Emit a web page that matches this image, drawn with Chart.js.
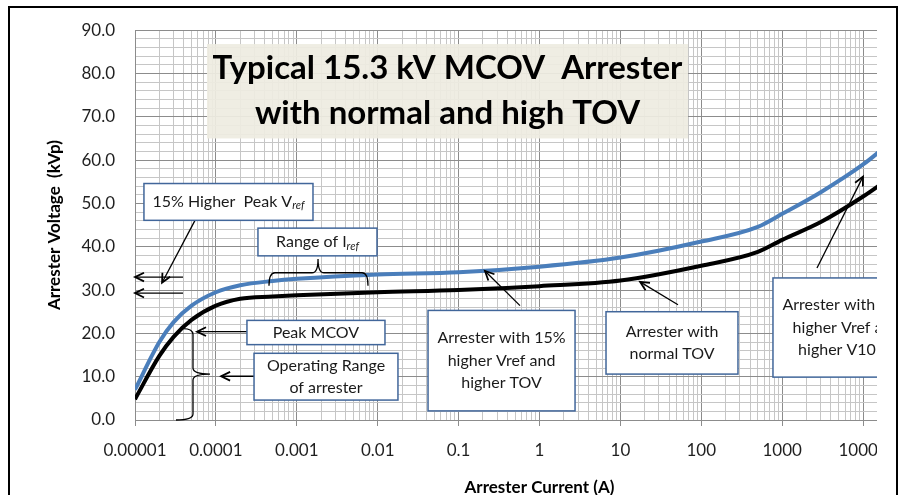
<!DOCTYPE html>
<html>
<head>
<meta charset="utf-8">
<title>Typical 15.3 kV MCOV Arrester</title>
<script src="https://cdn.jsdelivr.net/npm/chart.js@4.4.1/dist/chart.umd.min.js"></script>
<style>
  html, body { margin: 0; padding: 0; background: #fff; }
  #wrap { position: absolute; left: 0; top: 0; width: 877px; height: 495px; overflow: hidden; }
  #frame { position: absolute; left: 8px; top: 6px; width: 890px; height: 560px; border: 2px solid #000; box-sizing: border-box; pointer-events: none; }
</style>
</head>
<body>
<div id="wrap"><canvas id="chart" width="1000" height="495"></canvas></div>
<div id="frame"></div>
<script>
// --- data ---
const currentA = [1e-5, 2e-5, 3e-5, 5e-5, 1e-4, 2e-4, 5e-4, 1e-3, 1e-2, 0.1, 1, 10, 100, 500, 1000, 3000, 10000, 20000];
const normalTovKv = [4.8, 14.8, 19.2, 23.1, 26.4, 28.0, 28.5, 28.8, 29.5, 30.0, 30.9, 32.2, 35.6, 38.8, 41.6, 45.7, 51.6, 55.5];
const highTovKv = [7.0, 18.0, 22.6, 26.4, 29.5, 31.1, 32.1, 32.6, 33.6, 34.1, 35.4, 37.5, 41.2, 44.6, 47.6, 52.6, 59.0, 63.5];

const decades = [1e-5, 1e-4, 1e-3, 1e-2, 1e-1, 1, 10, 100, 1000, 10000, 100000];
const xTickLabels = ['0.00001', '0.0001', '0.001', '0.01', '0.1', '1', '10', '100', '1000', '10000', '100000'];

const titleLines = ['Typical 15.3 kV MCOV  Arrester', 'with normal and high TOV'];

// callouts (box corners and arrow ends in amps / kV)
const callouts = [
  { box: [1.29e-5, 54.6, 1.585e-3, 46.1], lines: [[{ t: '15% Higher  Peak V' }, { t: 'ref', sub: true }]] },
  { box: [3.31e-4, 44.3, 9.8e-3, 37.9], lines: [[{ t: 'Range of I' }, { t: 'ref', sub: true }]] },
  { box: [2.42e-4, 23.0, 1.23e-2, 17.4], lines: [[{ t: 'Peak MCOV' }]] },
  { box: [2.96e-4, 15.4, 1.78e-2, 4.6], lines: [[{ t: 'Operating Range' }], [{ t: 'of arrester' }]] },
  { box: [4.19e-2, 25.3, 2.75, 2.1], lines: [[{ t: 'Arrester with 15%' }], [{ t: 'higher Vref and' }], [{ t: 'higher TOV' }]] },
  { box: [6.64, 25.0, 284, 10.6], lines: [[{ t: 'Arrester with' }], [{ t: 'normal TOV' }]] },
  { box: [769, 32.8, 5.05e4, 9.9], lines: [[{ t: 'Arrester with 15%' }], [{ t: 'higher Vref and' }], [{ t: 'higher V10kA' }]] }
];
const arrows = [
  { from: [5.52e-5, 46.1], to: [2.16e-5, 31.7] },
  { from: [3.92e-5, 33.0], to: [1e-5, 33.0] },
  { from: [3.92e-5, 29.3], to: [1e-5, 29.3] },
  { from: [2.42e-4, 20.4], to: [5.84e-5, 20.4] },
  { from: [3.31e-4, 10.1], to: [1.16e-4, 10.1] },
  { from: [0.574, 26.4], to: [0.212, 34.4] },
  { from: [51.5, 26.6], to: [17.5, 31.9] },
  { from: [2692, 35.1], to: [9980, 56.2] }
];

const isDecade = v => decades.some(d => Math.abs(v / d - 1) < 1e-9);

const calloutPlugin = {
  id: 'callouts',
  beforeDatasetsDraw(chart) {
    const { ctx, scales: { x, y } } = chart;
    // title box over the grid
    const l = x.getPixelForValue(7.76e-5), r = x.getPixelForValue(68.5);
    const t = y.getPixelForValue(86.8), b = y.getPixelForValue(65.0);
    ctx.save();
    ctx.fillStyle = 'rgba(238,236,225,0.93)';
    ctx.fillRect(l, t, r - l, b - t);
    ctx.fillStyle = '#000';
    ctx.font = 'bold 33px Lato';
    ctx.textAlign = 'center';
    ctx.textBaseline = 'middle';
    const cx = (l + r) / 2, cy = (t + b) / 2;
    titleLines.forEach((line, i) => ctx.fillText(line, cx, cy + (i - 0.5) * 45));
    ctx.restore();
  },
  afterDatasetsDraw(chart) {
    const { ctx, scales: { x, y } } = chart;
    const px = v => x.getPixelForValue(v);
    const py = v => y.getPixelForValue(v);
    ctx.save();

    // arrows
    ctx.strokeStyle = '#000';
    arrows.forEach(a => {
      const x1 = px(a.from[0]), y1 = py(a.from[1]);
      const x2 = px(a.to[0]), y2 = py(a.to[1]);
      const ang = Math.atan2(y2 - y1, x2 - x1);
      ctx.lineWidth = 1.3;
      ctx.beginPath();
      ctx.moveTo(x1, y1);
      ctx.lineTo(x2, y2);
      ctx.stroke();
      ctx.lineWidth = 1.8;
      ctx.beginPath();
      ctx.moveTo(x2 - 10 * Math.cos(ang - 0.45), y2 - 10 * Math.sin(ang - 0.45));
      ctx.lineTo(x2, y2);
      ctx.lineTo(x2 - 10 * Math.cos(ang + 0.45), y2 - 10 * Math.sin(ang + 0.45));
      ctx.stroke();
    });

    ctx.lineWidth = 1.3;
    // brace over the range of Iref
    const x1 = px(4.53e-4), x2 = px(7.59e-3), xm = px(1.83e-3);
    const yb = py(34.0), ye = py(31.0), yn = py(37.2);
    ctx.beginPath();
    ctx.moveTo(x1, ye);
    ctx.quadraticCurveTo(x1, yb, x1 + 6, yb);
    ctx.lineTo(xm - 6, yb);
    ctx.quadraticCurveTo(xm, yb, xm, yn);
    ctx.quadraticCurveTo(xm, yb, xm + 6, yb);
    ctx.lineTo(x2 - 6, yb);
    ctx.quadraticCurveTo(x2, yb, x2, ye);
    ctx.stroke();

    // brace for the operating range
    const xb = px(5.21e-5), xt = px(3.92e-5), xbot = px(3.21e-5), xn = px(8.45e-5);
    const yt = py(21.1), ynub = py(10.6), ybot = py(0);
    ctx.beginPath();
    ctx.moveTo(xt, yt);
    ctx.quadraticCurveTo(xb, yt, xb, yt + 6);
    ctx.lineTo(xb, ynub - 6);
    ctx.quadraticCurveTo(xb, ynub, xn, ynub);
    ctx.moveTo(xn, ynub);
    ctx.quadraticCurveTo(xb, ynub, xb, ynub + 6);
    ctx.lineTo(xb, ybot - 6);
    ctx.quadraticCurveTo(xb, ybot, xbot, ybot);
    ctx.stroke();

    // boxes
    callouts.forEach(c => {
      const l = px(c.box[0]), t = py(c.box[1]), r = px(c.box[2]), b = py(c.box[3]);
      ctx.fillStyle = '#fff';
      ctx.fillRect(l, t, r - l, b - t);
      ctx.strokeStyle = '#41669a';
      ctx.lineWidth = 1.5;
      ctx.strokeRect(l, t, r - l, b - t);
      ctx.fillStyle = '#1a1a1a';
      ctx.textBaseline = 'middle';
      ctx.textAlign = 'left';
      const cx = (l + r) / 2, cy = (t + b) / 2;
      const n = c.lines.length;
      c.lines.forEach((segs, i) => {
        const ly = cy + (i - (n - 1) / 2) * 22.5;
        let w = 0;
        segs.forEach(s => {
          ctx.font = s.sub ? 'italic 11px Lato' : '16px Lato';
          w += ctx.measureText(s.t).width;
        });
        let lx = cx - w / 2;
        segs.forEach(s => {
          ctx.font = s.sub ? 'italic 11px Lato' : '16px Lato';
          ctx.fillText(s.t, lx, s.sub ? ly + 4 : ly);
          lx += ctx.measureText(s.t).width;
        });
      });
    });
    ctx.restore();
  }
};

new Chart(document.getElementById('chart'), {
  type: 'line',
  data: {
    datasets: [{
      label: 'Arrester with normal TOV',
      data: currentA.map((c, i) => ({ x: c, y: normalTovKv[i] })),
      borderColor: '#000',
      borderWidth: 4,
      pointRadius: 0,
      cubicInterpolationMode: 'monotone'
    }, {
      label: 'Arrester with 15% higher Vref and higher TOV',
      data: currentA.map((c, i) => ({ x: c, y: highTovKv[i] })),
      borderColor: '#4a7ebb',
      borderWidth: 4,
      pointRadius: 0,
      cubicInterpolationMode: 'monotone'
    }]
  },
  options: {
    responsive: false,
    devicePixelRatio: 1,
    animation: false,
    layout: { padding: { top: 28, right: 56, left: 0, bottom: 0 } },
    plugins: { legend: { display: false }, tooltip: { enabled: false } },
    scales: {
      x: {
        type: 'logarithmic',
        min: 1e-5,
        max: 1e5,
        afterFit: s => { s.height = 75; },
        afterBuildTicks: s => {
          const ticks = [];
          decades.forEach((d, i) => {
            if (i === decades.length - 1) { ticks.push({ value: d }); return; }
            for (let m = 1; m < 10; m++) ticks.push({ value: d * m });
          });
          s.ticks = ticks;
        },
        ticks: {
          autoSkip: false,
          maxRotation: 0,
          padding: 14,
          color: '#1f1f1f',
          font: { family: 'Lato', size: 17 },
          callback: v => {
            const i = decades.findIndex(d => Math.abs(v / d - 1) < 1e-9);
            return i >= 0 ? xTickLabels[i] : '';
          }
        },
        grid: {
          color: c => isDecade(c.tick.value) ? '#8c8c8c' : '#c6c6c6',
          tickColor: c => isDecade(c.tick.value) ? '#8c8c8c' : 'rgba(0,0,0,0)',
          tickLength: 6
        },
        border: { color: '#8c8c8c' },
        title: {
          display: true,
          text: 'Arrester Current (A)',
          color: '#000',
          font: { family: 'Lato', size: 17, weight: 'bold' },
          padding: { top: 0, bottom: -3 }
        }
      },
      y: {
        min: 0,
        max: 90,
        afterFit: s => { s.width = 135; },
        afterBuildTicks: s => {
          const ticks = [];
          for (let v = 0; v <= 90; v += 2) ticks.push({ value: v });
          s.ticks = ticks;
        },
        ticks: {
          autoSkip: false,
          padding: 20,
          color: '#1f1f1f',
          font: { family: 'Lato', size: 17 },
          callback: v => v % 10 === 0 ? v.toFixed(1) : ''
        },
        grid: {
          color: c => c.tick.value % 10 === 0 ? '#8c8c8c' : '#c6c6c6',
          drawTicks: false
        },
        border: { color: '#8c8c8c' },
        title: {
          display: true,
          text: 'Arrester Voltage  (kVp)',
          color: '#000',
          font: { family: 'Lato', size: 17, weight: 'bold' },
          padding: { top: 44, bottom: 0 }
        }
      }
    }
  },
  plugins: [calloutPlugin]
});
</script>
</body>
</html>
